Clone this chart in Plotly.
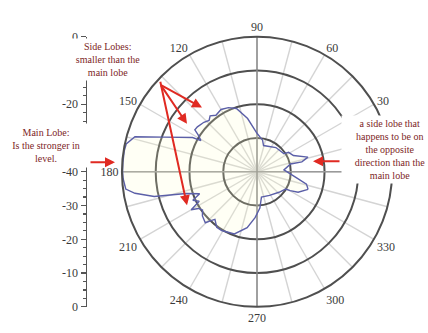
import plotly.graph_objects as go

# ---- data ----
pattern_theta = [341, 346, 351, 358, 4, 13, 12.5, 16, 24, 31.6, 33.7, 52, 76, 80, 90,
                 100, 108, 114, 120, 126, 130, 133, 137, 143, 146, 148, 151, 152,
                 159.6, 164, 168, 171, 176, 180, 183, 187.5, 190, 193.5, 197, 201,
                 204, 207, 210, 212, 215, 219, 224.6, 227, 228.5, 234, 239, 250, 260,
                 267.6, 274.5, 280, 298, 317, 328.8, 330.4, 333.6, 341]
pattern_db = [-24.0, -24.9, -28.0, -30.6, -32.0, -29.8, -26.4, -24.3, -28.2, -29.0, -30.4,
              -30.9, -32.0, -30.5, -28.6,
              -24.0, -20.3, -19.2, -18.7, -19.3, -18.4, -19.2, -18.5, -17.9, -17.8,
              -19.5, -21.0, -18.4,
              -10.6, -2.4, -0.4, -0.2, -0.2, -0.2, -0.3, -0.8, -3.3, -8.7, -18.0, -21.8,
              -19.2, -20.8, -17.5, -19.5, -20.3, -19.2, -18.5, -20.3, -21.2, -19.7, -19.7,
              -20.4, -23.2,
              -26.4, -29.2, -32.4, -32.1, -31.1, -30.1, -28.7, -26.4, -24.0]

r_min, r_max = -40, 0
ring_values = [-30, -20, -10]
angle_ticks = list(range(0, 360, 15))
# the 0 label is hidden behind the right-hand note in the reference
angle_labels = [str(a) if (a % 30 == 0 and a != 0) else "" for a in angle_ticks]

scale_offsets = [-40, -30, -20, -10, 0, 10, 20, 30, 40]
scale_labels = ["0", "-10", "-20", "-30", "-40", "", "-20", "", "0"]

side_text = "Side Lobes:<br>smaller than the<br>main lobe"
main_text = "Main Lobe:<br>Is the stronger in<br>level."
back_text = "a side lobe that<br>happens to be on<br>the opposite<br>direction than the<br>main lobe"

# ---- geometry helpers ----
W, H = 428, 333
cx, cy, R = 257, 172, 141


def px(x):
    return x / W


def py(y):
    return 1 - y / H


fig = go.Figure()

# dark axis lines through centre (0-180 and 90-270)
fig.add_trace(go.Scatterpolar(r=[r_max, r_min, r_max], theta=[0, 180, 180], mode="lines",
                              line=dict(color="#9a9a9a", width=1.5), hoverinfo="skip",
                              showlegend=False))
fig.add_trace(go.Scatterpolar(r=[r_max, r_min, r_max], theta=[90, 270, 270], mode="lines",
                              line=dict(color="#8a8a8a", width=1.5), hoverinfo="skip",
                              showlegend=False))

# antenna pattern
fig.add_trace(go.Scatterpolar(r=pattern_db, theta=pattern_theta, mode="lines",
                              line=dict(color="#5b5fa8", width=1.4),
                              fill="toself", fillcolor="rgba(255,255,200,0.18)",
                              showlegend=False))

# invisible trace for the left-hand dB scale
fig.add_trace(go.Scatter(x=[], y=[], xaxis="x", yaxis="y", showlegend=False))

fig.update_layout(
    width=W, height=H, autosize=False,
    margin=dict(l=0, r=0, t=0, b=0),
    paper_bgcolor="white", plot_bgcolor="rgba(0,0,0,0)",
    showlegend=False,
    polar=dict(
        domain=dict(x=[px(cx - R), px(cx + R)], y=[py(cy + R), py(cy - R)]),
        bgcolor="white",
        radialaxis=dict(range=[r_min, r_max], tickvals=ring_values, showticklabels=False,
                        ticks="", showline=False, gridcolor="#4f4f4f", gridwidth=2),
        angularaxis=dict(direction="counterclockwise", rotation=0,
                         tickmode="array", tickvals=angle_ticks, ticktext=angle_labels,
                         showline=True, linecolor="#4f4f4f", linewidth=2,
                         gridcolor="#d4d4d4", gridwidth=1.4, ticks="",
                         tickfont=dict(family="Liberation Serif", size=12, color="#3a3a3a")),
    ),
    xaxis=dict(domain=[px(87), px(95)], visible=False, range=[0, 1], fixedrange=True),
    yaxis=dict(domain=[py(cy + R), py(cy - R)], range=[r_min, -r_min], anchor="x", side="left",
               tickmode="array", tickvals=scale_offsets, ticktext=scale_labels,
               showline=True, linecolor="#555", linewidth=1.5,
               ticks="outside", ticklen=5, tickcolor="#555", tickwidth=1.2,
               minor=dict(dtick=2.5, ticks="outside", ticklen=3, tickcolor="#555"),
               showgrid=False, zeroline=False, fixedrange=True,
               tickfont=dict(family="Liberation Serif", size=12, color="#3a3a3a")),
)

red = "#e02a22"
txt_color = "#7d2626"
txt_font = dict(family="Liberation Serif", size=10, color=txt_color)

annotations = [
    # text boxes
    dict(x=px(108), y=py(55), xref="paper", yref="paper", text=side_text, showarrow=False,
         xanchor="center", yanchor="middle",
         font=txt_font, bgcolor="white", width=82, align="center", borderpad=2),
    dict(x=px(46), y=py(145), xref="paper", yref="paper", text=main_text, showarrow=False,
         xanchor="center", yanchor="middle",
         font=txt_font, bgcolor="white", width=86, align="center", borderpad=3),
    dict(x=px(390), y=py(149), xref="paper", yref="paper", text=back_text, showarrow=False,
         xanchor="center", yanchor="middle",
         font=txt_font, bgcolor="white", width=92, align="center", borderpad=2),
]
# arrows (tip, tail) in pixels
arrows = [((202, 105), (160, 82)), ((187, 122), (160, 82)), ((187, 207), (160, 82)),
          ((115, 162), (89, 162)), ((313, 161), (341, 161))]
for (tx, ty), (sx, sy) in arrows:
    annotations.append(dict(x=px(tx), y=py(ty), xref="paper", yref="paper", text="",
                            showarrow=True, arrowhead=2, arrowsize=1, arrowwidth=2,
                            arrowcolor=red, ax=sx - tx, ay=sy - ty, standoff=0))
fig.update_layout(annotations=annotations)

fig.write_html("out.html", config={"displayModeBar": False, "staticPlot": True},
               post_script="document.body.style.margin='0';document.body.style.overflow='hidden';")
